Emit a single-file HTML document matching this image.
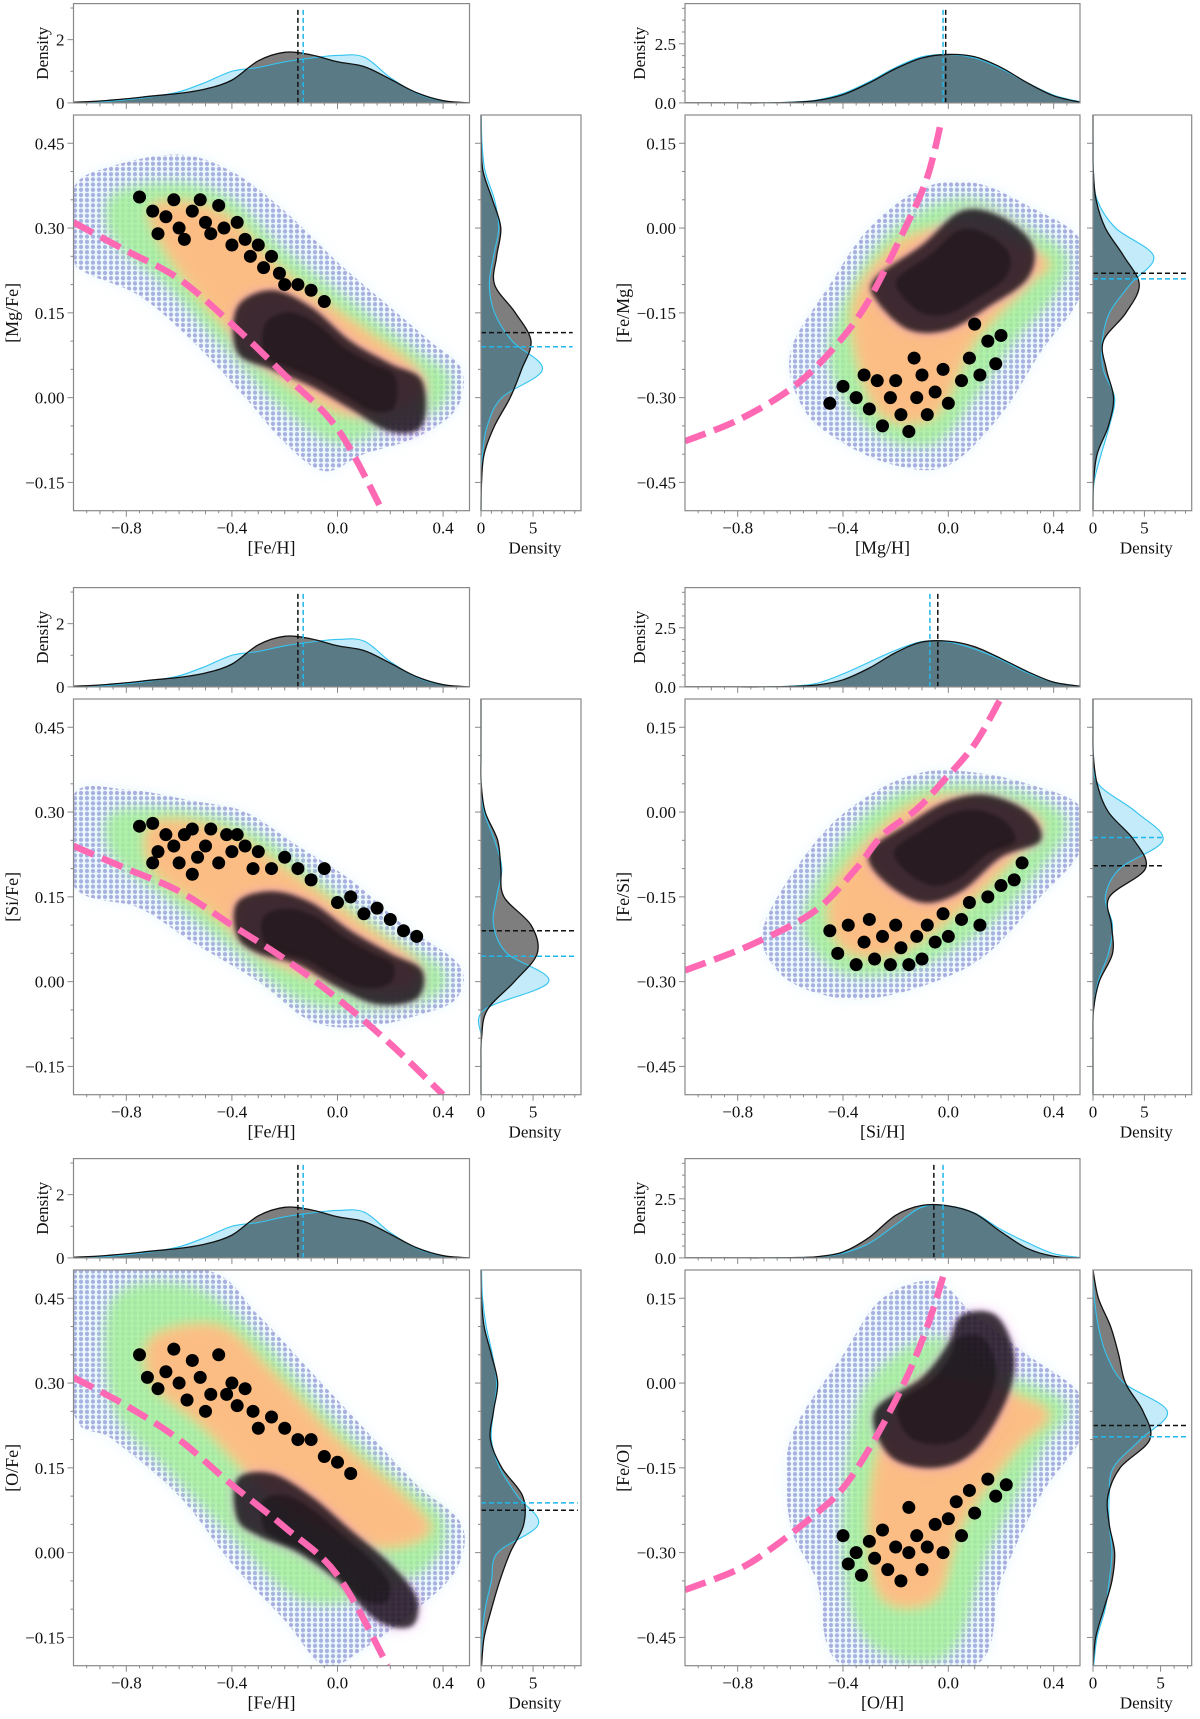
<!DOCTYPE html>
<html><head><meta charset="utf-8"><style>
html,body{margin:0;padding:0;background:#fff;}
svg text{font-family:"Liberation Serif",serif;fill:#111;}
</style></head><body>
<svg id="fig" xmlns="http://www.w3.org/2000/svg" width="1200" height="1714" viewBox="0 0 1200 1714">
<defs>
<pattern id="dots" width="6" height="5.2" patternUnits="userSpaceOnUse"><circle cx="3" cy="2.6" r="2.1" fill="#8c8cd2" fill-opacity="0.75"/></pattern>
<filter id="blur" x="-20%" y="-20%" width="140%" height="140%"><feGaussianBlur stdDeviation="6"/></filter>
<filter id="blur2" x="-20%" y="-20%" width="140%" height="140%"><feGaussianBlur stdDeviation="2.5"/></filter>
</defs>
</svg>
<script>
// ---------- shared grids ----------
const topGrid=[-1,-0.9,-0.8,-0.7,-0.6,-0.5,-0.4,-0.3,-0.2,-0.1,0,0.1,0.2,0.3,0.4,0.5];
const xTicks=[-0.8,-0.4,0,0.4];
const xTickLabels=["\u22120.8","\u22120.4","0.0","0.4"];
const yTicksLeft=[-0.15,0,0.15,0.3,0.45];
const yTickLabelsLeft=["\u22120.15","0.00","0.15","0.30","0.45"];
const yTicksRight=[-0.45,-0.3,-0.15,0,0.15];
const yTickLabelsRight=["\u22120.45","\u22120.30","\u22120.15","0.00","0.15"];

// ---------- panel 1 [Mg/Fe] vs [Fe/H] ----------
const p1TopBlack=[0.02,0.06,0.13,0.22,0.3,0.44,0.72,1.33,1.6,1.52,1.3,1.15,0.75,0.32,0.07,0];
const p1TopCyan=[0.01,0.03,0.1,0.2,0.35,0.65,1.0,1.12,1.3,1.42,1.5,1.45,0.8,0.3,0.06,0];
const p1RightBlack=[0,0.05,0.3,1.3,2.8,3.9,4.8,3.3,1.3,1.5,1.9,1.1,0.2,0.02,0];
const p1RightCyan=[0,0.02,0.15,0.6,2.0,5.9,3.0,1.3,0.8,1.2,1.7,1.3,0.4,0.1,0.02];
const p1Medians={topBlack:-0.15,topCyan:-0.13,rightBlack:0.115,rightCyan:0.09};
const p1CurveX=[-1,-0.8,-0.6,-0.4,-0.2,0,0.17];
const p1CurveY=[0.31,0.26,0.21,0.13,0.04,-0.055,-0.2];
const p1Outer=[[-1,0.37],[-0.85,0.41],[-0.6,0.43],[-0.4,0.4],[-0.2,0.33],[0,0.24],[0.2,0.16],[0.35,0.1],[0.47,0.05],[0.45,-0.02],[0.3,-0.07],[0.1,-0.1],[-0.05,-0.13],[-0.2,-0.08],[-0.35,0],[-0.55,0.1],[-0.75,0.18],[-0.95,0.22],[-1,0.25]];
const p1Green=[[-0.85,0.36],[-0.6,0.38],[-0.4,0.35],[-0.2,0.26],[0.05,0.17],[0.3,0.08],[0.42,0.04],[0.38,-0.02],[0.2,-0.05],[0,-0.08],[-0.2,-0.02],[-0.45,0.1],[-0.65,0.2],[-0.85,0.28]];
const p1Core=[[-0.7,0.34],[-0.45,0.33],[-0.2,0.22],[0.1,0.12],[0.3,0.05],[0.3,0],[0.05,-0.03],[-0.2,0.03],[-0.45,0.14],[-0.65,0.26]];
const p1Dense=[[-0.38,0.16],[-0.25,0.19],[-0.1,0.16],[0.05,0.1],[0.2,0.06],[0.32,0.03],[0.32,-0.05],[0.2,-0.06],[0.05,-0.02],[-0.1,0.02],[-0.25,0.05],[-0.38,0.08]];
const p1DotsX=[-0.75,-0.7,-0.68,-0.65,-0.62,-0.6,-0.58,-0.55,-0.52,-0.5,-0.48,-0.45,-0.43,-0.4,-0.38,-0.35,-0.33,-0.3,-0.28,-0.25,-0.22,-0.2,-0.15,-0.1,-0.05];
const p1DotsY=[0.355,0.33,0.29,0.32,0.35,0.3,0.28,0.33,0.35,0.31,0.29,0.34,0.3,0.27,0.31,0.28,0.25,0.27,0.23,0.25,0.22,0.2,0.2,0.19,0.17];

// ---------- panel 2 [Fe/Mg] vs [Mg/H] ----------
const p2TopBlack=[0,0,0,0,0.02,0.1,0.35,0.85,1.45,1.9,2.05,1.95,1.5,0.85,0.3,0.03];
const p2TopCyan=[0,0,0,0,0.03,0.12,0.4,0.9,1.5,1.95,2.05,1.9,1.45,0.85,0.33,0.05];
const p2RightBlack=[0,0.05,0.4,1.5,2.0,1.3,1.0,3.2,4.5,3.0,1.2,0.3,0.03,0,0];
const p2RightCyan=[0,0.1,0.8,1.6,2.1,1.0,0.9,1.6,3.6,5.9,2.2,0.4,0.05,0.01,0];
const p2Medians={topBlack:-0.01,topCyan:-0.02,rightBlack:-0.08,rightCyan:-0.09};
const p2CurveX=[-1,-0.8,-0.6,-0.45,-0.31,-0.164,-0.08,-0.026];
const p2CurveY=[-0.377,-0.34,-0.285,-0.22,-0.134,0,0.09,0.19];
const p2Outer=[[-0.6,-0.22],[-0.45,-0.1],[-0.3,0],[-0.1,0.07],[0.1,0.08],[0.3,0.04],[0.5,-0.02],[0.5,-0.12],[0.35,-0.22],[0.2,-0.33],[0,-0.42],[-0.2,-0.42],[-0.4,-0.38],[-0.55,-0.32]];
const p2Green=[[-0.45,-0.2],[-0.3,-0.05],[-0.1,0.03],[0.1,0.05],[0.3,0],[0.45,-0.05],[0.4,-0.12],[0.25,-0.2],[0.1,-0.3],[-0.05,-0.38],[-0.25,-0.37],[-0.4,-0.3]];
const p2Core=[[-0.35,-0.12],[-0.2,-0.03],[0,0],[0.2,-0.02],[0.38,-0.06],[0.3,-0.1],[0.1,-0.2],[-0.05,-0.33],[-0.25,-0.33],[-0.35,-0.22]];
const p2Dense=[[-0.28,-0.09],[-0.1,-0.03],[0.05,0.03],[0.2,0.02],[0.32,-0.03],[0.3,-0.09],[0.15,-0.14],[0,-0.18],[-0.15,-0.18],[-0.27,-0.13]];
const p2DotsX=[-0.4,-0.35,-0.3,-0.27,-0.25,-0.22,-0.2,-0.18,-0.15,-0.12,-0.1,-0.08,-0.05,-0.02,0,0.05,0.08,0.12,0.15,0.18,0.2,-0.32,-0.45,-0.13,0.1];
const p2DotsY=[-0.28,-0.3,-0.32,-0.27,-0.35,-0.3,-0.27,-0.33,-0.36,-0.3,-0.26,-0.33,-0.29,-0.25,-0.31,-0.27,-0.23,-0.26,-0.2,-0.24,-0.19,-0.26,-0.31,-0.23,-0.17];

// ---------- panel 3 [Si/Fe] vs [Fe/H] ----------
const p3TopBlack=[0.02,0.06,0.13,0.22,0.3,0.44,0.72,1.33,1.6,1.52,1.3,1.15,0.75,0.32,0.07,0];
const p3TopCyan=[0.01,0.03,0.1,0.2,0.35,0.65,1.0,1.12,1.3,1.42,1.5,1.45,0.8,0.3,0.06,0];
const p3RightBlack=[0,0,0.05,0.6,3.2,5.4,4.8,2.2,1.9,1.6,0.4,0.02,0,0,0];
const p3RightCyan=[0,0,0.03,0.3,6.5,2.5,1.2,1.5,2.0,1.3,0.3,0.02,0,0,0];
const p3Medians={topBlack:-0.15,topCyan:-0.13,rightBlack:0.09,rightCyan:0.045};
const p3CurveX=[-1,-0.8,-0.6,-0.4,-0.2,0,0.2,0.4];
const p3CurveY=[0.24,0.2,0.16,0.1,0.04,-0.03,-0.11,-0.2];
const p3Outer=[[-1,0.33],[-0.8,0.34],[-0.55,0.32],[-0.35,0.3],[-0.15,0.24],[0.05,0.18],[0.25,0.1],[0.46,0.03],[0.45,-0.03],[0.3,-0.06],[0.1,-0.08],[-0.1,-0.07],[-0.3,0],[-0.55,0.07],[-0.75,0.13],[-1,0.17]];
const p3Green=[[-0.85,0.3],[-0.55,0.3],[-0.3,0.26],[-0.05,0.17],[0.2,0.08],[0.4,0.02],[0.35,-0.03],[0.1,-0.05],[-0.15,-0.03],[-0.4,0.06],[-0.65,0.15],[-0.85,0.22]];
const p3Core=[[-0.7,0.28],[-0.45,0.27],[-0.2,0.2],[0.1,0.1],[0.3,0.03],[0.25,-0.01],[0,0],[-0.25,0.04],[-0.5,0.13],[-0.7,0.2]];
const p3Dense=[[-0.38,0.14],[-0.25,0.16],[-0.1,0.14],[0.05,0.09],[0.2,0.05],[0.32,0.02],[0.3,-0.03],[0.15,-0.04],[0,-0.01],[-0.15,0.03],[-0.3,0.05],[-0.38,0.08]];
const p3DotsX=[-0.75,-0.7,-0.68,-0.65,-0.62,-0.6,-0.58,-0.55,-0.53,-0.5,-0.48,-0.45,-0.42,-0.4,-0.38,-0.35,-0.32,-0.3,-0.25,-0.2,-0.15,-0.1,-0.05,-0.7,-0.55,0,0.05,0.1,0.15,0.2,0.25,0.3];
const p3DotsY=[0.275,0.28,0.23,0.26,0.24,0.21,0.26,0.27,0.22,0.24,0.27,0.21,0.26,0.23,0.26,0.24,0.2,0.23,0.2,0.22,0.2,0.18,0.2,0.21,0.19,0.14,0.15,0.12,0.13,0.11,0.09,0.08];

// ---------- panel 4 [Fe/Si] vs [Si/H] ----------
const p4TopBlack=[0,0,0,0,0.02,0.08,0.3,0.8,1.45,1.9,1.93,1.7,1.2,0.65,0.2,0.03];
const p4TopCyan=[0,0,0,0,0.03,0.15,0.55,1.05,1.55,1.92,1.9,1.6,1.15,0.6,0.2,0.03];
const p4RightBlack=[0,0,0,0.05,0.6,1.9,1.8,1.6,5.1,4.0,1.5,0.4,0.03,0,0];
const p4RightCyan=[0,0,0,0.05,0.5,1.5,1.9,1.2,2.6,6.8,4.2,0.5,0.05,0,0];
const p4Medians={topBlack:-0.04,topCyan:-0.07,rightBlack:-0.095,rightCyan:-0.045};
const p4CurveX=[-1,-0.75,-0.51,-0.35,-0.25,-0.12,-0.019,0.1,0.198];
const p4CurveY=[-0.28,-0.235,-0.176,-0.1,-0.041,0.005,0.055,0.12,0.2];
const p4Outer=[[-0.7,-0.2],[-0.5,-0.05],[-0.3,0.03],[-0.1,0.07],[0.1,0.07],[0.3,0.05],[0.5,0.01],[0.5,-0.07],[0.35,-0.15],[0.15,-0.25],[-0.05,-0.3],[-0.3,-0.33],[-0.5,-0.32],[-0.65,-0.28]];
const p4Green=[[-0.55,-0.18],[-0.4,-0.05],[-0.2,0.03],[0.05,0.05],[0.3,0.03],[0.45,-0.02],[0.35,-0.1],[0.15,-0.2],[-0.1,-0.27],[-0.35,-0.29],[-0.5,-0.25]];
const p4Core=[[-0.45,-0.15],[-0.3,-0.05],[-0.1,0.02],[0.15,0.02],[0.35,-0.02],[0.25,-0.08],[0.05,-0.17],[-0.2,-0.25],[-0.4,-0.24]];
const p4Dense=[[-0.3,-0.07],[-0.15,-0.02],[0,0.02],[0.15,0.03],[0.3,0],[0.35,-0.05],[0.2,-0.08],[0.05,-0.14],[-0.1,-0.16],[-0.25,-0.12]];
const p4DotsX=[-0.45,-0.42,-0.38,-0.35,-0.32,-0.3,-0.28,-0.25,-0.22,-0.2,-0.18,-0.15,-0.12,-0.1,-0.08,-0.05,-0.02,0,0.05,0.08,0.12,0.15,0.2,0.25,0.28];
const p4DotsY=[-0.21,-0.25,-0.2,-0.27,-0.23,-0.19,-0.26,-0.22,-0.27,-0.2,-0.24,-0.27,-0.22,-0.26,-0.2,-0.23,-0.18,-0.22,-0.19,-0.16,-0.2,-0.15,-0.13,-0.12,-0.09];

// ---------- panel 5 [O/Fe] vs [Fe/H] ----------
const p5TopBlack=[0.02,0.06,0.13,0.22,0.3,0.44,0.72,1.33,1.6,1.52,1.3,1.15,0.75,0.32,0.07,0];
const p5TopCyan=[0.01,0.03,0.1,0.2,0.35,0.65,1.0,1.12,1.3,1.42,1.5,1.45,0.8,0.3,0.06,0];
const p5RightBlack=[0.05,0.3,1.0,1.8,2.8,4.1,4.0,2.0,0.9,1.2,1.6,1.0,0.3,0.05,0];
const p5RightCyan=[0,0.1,0.4,1.0,1.6,5.5,3.5,1.8,1.0,1.2,1.5,1.1,0.5,0.15,0.05];
const p5Medians={topBlack:-0.15,topCyan:-0.13,rightBlack:0.075,rightCyan:0.088};
const p5CurveX=[-1,-0.8,-0.6,-0.4,-0.2,0,0.19];
const p5CurveY=[0.31,0.26,0.2,0.12,0.045,-0.04,-0.2];
const p5Outer=[[-1,0.5],[-0.5,0.5],[-0.3,0.42],[-0.1,0.32],[0.1,0.22],[0.3,0.12],[0.47,0.05],[0.45,-0.03],[0.3,-0.1],[0.1,-0.17],[-0.05,-0.2],[-0.2,-0.12],[-0.4,-0.02],[-0.6,0.1],[-0.85,0.2],[-1,0.25]];
const p5Green=[[-0.85,0.45],[-0.55,0.47],[-0.3,0.38],[-0.05,0.25],[0.2,0.14],[0.4,0.06],[0.35,-0.02],[0.1,-0.08],[-0.15,-0.08],[-0.4,0.03],[-0.65,0.15],[-0.85,0.26]];
const p5Core=[[-0.7,0.38],[-0.45,0.4],[-0.25,0.32],[0,0.2],[0.25,0.1],[0.35,0.04],[0.2,0.01],[0,0.03],[-0.25,0.1],[-0.5,0.22],[-0.7,0.3]];
const p5Dense=[[-0.38,0.13],[-0.25,0.14],[-0.1,0.1],[0.05,0.04],[0.2,-0.02],[0.3,-0.08],[0.28,-0.13],[0.15,-0.12],[0,-0.05],[-0.15,0],[-0.3,0.03],[-0.38,0.06]];
const p5DotsX=[-0.75,-0.72,-0.68,-0.65,-0.62,-0.6,-0.57,-0.55,-0.52,-0.5,-0.48,-0.45,-0.42,-0.4,-0.38,-0.35,-0.32,-0.3,-0.25,-0.2,-0.15,-0.1,-0.05,0,0.05];
const p5DotsY=[0.35,0.31,0.29,0.32,0.36,0.3,0.27,0.34,0.31,0.25,0.28,0.35,0.28,0.3,0.26,0.29,0.25,0.22,0.24,0.22,0.2,0.2,0.17,0.16,0.14];

// ---------- panel 6 [Fe/O] vs [O/H] ----------
const p6TopBlack=[0,0,0,0,0.01,0.05,0.25,0.87,1.8,2.22,2.2,1.88,1.1,0.4,0.07,0];
const p6TopCyan=[0,0,0,0,0.01,0.04,0.2,0.62,1.4,2.15,2.2,1.9,1.2,0.65,0.18,0.02];
const p6RightBlack=[0,0.2,0.8,1.4,1.6,1.2,1.1,2.0,4.2,3.7,2.4,1.9,1.3,0.4,0];
const p6RightCyan=[0.05,0.3,0.9,1.2,1.4,1.2,1.2,1.5,3.5,5.5,2.3,1.0,0.4,0.1,0];
const p6Medians={topBlack:-0.055,topCyan:-0.02,rightBlack:-0.075,rightCyan:-0.095};
const p6CurveX=[-1,-0.8,-0.67,-0.5,-0.395,-0.28,-0.164,-0.08,-0.012];
const p6CurveY=[-0.366,-0.33,-0.292,-0.23,-0.183,-0.1,0.004,0.1,0.2];
const p6Outer=[[-0.6,-0.1],[-0.4,0.05],[-0.25,0.15],[-0.05,0.18],[0.1,0.12],[0.3,0.05],[0.5,-0.02],[0.5,-0.1],[0.35,-0.2],[0.2,-0.35],[0.1,-0.5],[-0.4,-0.5],[-0.5,-0.35],[-0.6,-0.25]];
const p6Green=[[-0.35,-0.05],[-0.2,0.05],[0,0.08],[0.2,0.02],[0.45,-0.04],[0.35,-0.12],[0.15,-0.3],[0,-0.48],[-0.3,-0.46],[-0.4,-0.3]];
const p6Core=[[-0.25,-0.1],[-0.1,0],[0.1,0],[0.3,-0.03],[0.38,-0.06],[0.25,-0.12],[0.05,-0.25],[-0.05,-0.38],[-0.25,-0.38],[-0.3,-0.25]];
const p6Dense=[[-0.28,-0.05],[-0.1,0.01],[0,0.07],[0.05,0.12],[0.18,0.12],[0.25,0.05],[0.22,-0.03],[0.1,-0.12],[-0.05,-0.15],[-0.22,-0.13]];
const p6DotsX=[-0.4,-0.38,-0.35,-0.33,-0.3,-0.28,-0.25,-0.23,-0.2,-0.18,-0.15,-0.12,-0.1,-0.08,-0.05,-0.02,0,0.03,0.05,0.08,0.1,0.15,0.18,0.22,-0.15];
const p6DotsY=[-0.27,-0.32,-0.3,-0.34,-0.28,-0.31,-0.26,-0.33,-0.29,-0.35,-0.3,-0.27,-0.33,-0.29,-0.25,-0.3,-0.24,-0.21,-0.27,-0.19,-0.23,-0.17,-0.2,-0.18,-0.22];

const panels=[
 {id:'p1',col:0,row:0,xl:'[Fe/H]',yl:'[Mg/Fe]',tb:p1TopBlack,tc:p1TopCyan,rb:p1RightBlack,rc:p1RightCyan,med:p1Medians,cx:p1CurveX,cy:p1CurveY,outer:p1Outer,green:p1Green,core:p1Core,dense:p1Dense,dx:p1DotsX,dy:p1DotsY,rMax:9.6,mEnd:8.8},
 {id:'p2',col:1,row:0,xl:'[Mg/H]',yl:'[Fe/Mg]',tb:p2TopBlack,tc:p2TopCyan,rb:p2RightBlack,rc:p2RightCyan,med:p2Medians,cx:p2CurveX,cy:p2CurveY,outer:p2Outer,green:p2Green,core:p2Core,dense:p2Dense,dx:p2DotsX,dy:p2DotsY,rMax:9.6,mEnd:9.3},
 {id:'p3',col:0,row:1,xl:'[Fe/H]',yl:'[Si/Fe]',tb:p3TopBlack,tc:p3TopCyan,rb:p3RightBlack,rc:p3RightCyan,med:p3Medians,cx:p3CurveX,cy:p3CurveY,outer:p3Outer,green:p3Green,core:p3Core,dense:p3Dense,dx:p3DotsX,dy:p3DotsY,rMax:9.6,mEnd:9.0},
 {id:'p4',col:1,row:1,xl:'[Si/H]',yl:'[Fe/Si]',tb:p4TopBlack,tc:p4TopCyan,rb:p4RightBlack,rc:p4RightCyan,med:p4Medians,cx:p4CurveX,cy:p4CurveY,outer:p4Outer,green:p4Green,core:p4Core,dense:p4Dense,dx:p4DotsX,dy:p4DotsY,rMax:9.6,mEnd:6.7},
 {id:'p5',col:0,row:2,xl:'[Fe/H]',yl:'[O/Fe]',tb:p5TopBlack,tc:p5TopCyan,rb:p5RightBlack,rc:p5RightCyan,med:p5Medians,cx:p5CurveX,cy:p5CurveY,outer:p5Outer,green:p5Green,core:p5Core,dense:p5Dense,dx:p5DotsX,dy:p5DotsY,rMax:9.6,mEnd:9.3},
 {id:'p6',col:1,row:2,xl:'[O/H]',yl:'[Fe/O]',tb:p6TopBlack,tc:p6TopCyan,rb:p6RightBlack,rc:p6RightCyan,med:p6Medians,cx:p6CurveX,cy:p6CurveY,outer:p6Outer,green:p6Green,core:p6Core,dense:p6Dense,dx:p6DotsX,dy:p6DotsY,rMax:7.3,mEnd:7.0}
];

const NS='http://www.w3.org/2000/svg';
const svg=document.getElementById('fig');
function mk(parent,tag,attrs,txt){const e=document.createElementNS(NS,tag);for(const k in attrs)e.setAttribute(k,attrs[k]);if(txt!=null)e.textContent=txt;parent.appendChild(e);return e;}
function smooth(pts){let d='M'+pts[0][0]+','+pts[0][1];for(let i=0;i<pts.length-1;i++){const p0=pts[Math.max(i-1,0)],p1=pts[i],p2=pts[i+1],p3=pts[Math.min(i+2,pts.length-1)];const c1=[p1[0]+(p2[0]-p0[0])/6,p1[1]+(p2[1]-p0[1])/6],c2=[p2[0]-(p3[0]-p1[0])/6,p2[1]-(p3[1]-p1[1])/6];d+=' C'+c1[0]+','+c1[1]+' '+c2[0]+','+c2[1]+' '+p2[0]+','+p2[1];}return d;}
function closedPath(pts){const n=pts.length;let d='M'+pts[0][0]+','+pts[0][1];for(let i=0;i<n;i++){const p0=pts[(i-1+n)%n],p1=pts[i],p2=pts[(i+1)%n],p3=pts[(i+2)%n];const c1=[p1[0]+(p2[0]-p0[0])/6,p1[1]+(p2[1]-p0[1])/6],c2=[p2[0]-(p3[0]-p1[0])/6,p2[1]-(p3[1]-p1[1])/6];d+=' C'+c1[0]+','+c1[1]+' '+c2[0]+','+c2[1]+' '+p2[0]+','+p2[1];}return d+'Z';}
const rowOff=[0,584,1155];
const FR='#888';

panels.forEach(p=>{
  const left=p.col===0;
  const L=left?73.5:685, W=left?396:395, T=115+rowOff[p.row], H=395.7;
  const TT=3.6+rowOff[p.row], TH=99.3;
  const R=left?481:1093, RW=left?100:98.7;
  const ymin=left?-0.2:-0.5, ymax=ymin+0.7;
  const topMax=left?3.14:4.2;
  const sx=v=>L+(v+1)/1.5*W;
  const sy=v=>T+(ymax-v)/0.7*H;
  const ty=v=>TT+TH-v/topMax*TH;
  const rx=v=>R+v/p.rMax*RW;
  const g=mk(svg,'g',{});
  
  

  // ---- main scatter ----
  const clip=mk(g,'clipPath',{id:p.id+'clip'});
  mk(clip,'rect',{x:L,y:T,width:W,height:H});
  const sc=mk(g,'g',{'clip-path':'url(#'+p.id+'clip)'});
  
  
  const toPx=a=>a.map(q=>[sx(q[0]),sy(q[1])]);
  const outer=mk(sc,'path',{d:closedPath(toPx(p.outer)),fill:'url(#dots)'});
  
  
  mk(sc,'path',{d:closedPath(toPx(p.outer)),fill:'#9ad9f0','fill-opacity':'0.2',filter:'url(#blur)'});
  const gr=mk(sc,'path',{d:closedPath(toPx(p.green)),fill:'#a4f09a','fill-opacity':'0.85',filter:'url(#blur)'});
  
  
  mk(sc,'path',{d:closedPath(toPx(p.core)),fill:'#fbe77a','fill-opacity':'0.95',filter:'url(#blur)'});
  mk(sc,'path',{d:closedPath(toPx(p.core)),fill:'#ff9a8a','fill-opacity':'0.55',filter:'url(#blur)',transform:'translate(0,0)'});
  mk(sc,'path',{d:closedPath(toPx(p.dense)),fill:'#e48ae8','fill-opacity':'0.6',filter:'url(#blur)'});
  const dn=mk(sc,'path',{d:closedPath(toPx(p.dense)),fill:'#000','fill-opacity':'0.74',filter:'url(#blur2)'});
  
  
  const ctr=toPx(p.dense).reduce((a,q)=>[a[0]+q[0]/p.dense.length,a[1]+q[1]/p.dense.length],[0,0]);
  mk(sc,'path',{d:closedPath(toPx(p.dense)),fill:'#000','fill-opacity':'0.35',filter:'url(#blur2)',transform:'translate('+ctr[0]+','+ctr[1]+') scale(0.7) translate('+(-ctr[0])+','+(-ctr[1])+')'});
  p.dx.forEach((x,i)=>{
    const c=mk(sc,'circle',{cx:sx(x),cy:sy(p.dy[i]),r:6.5,fill:'#000'});
    
    
  });
  const cp=p.cx.map((x,i)=>[sx(x),sy(p.cy[i])]);
  const curve=mk(sc,'path',{d:smooth(cp),fill:'none',stroke:'#ff69b4',"stroke-width":6.5,"stroke-dasharray":'22 9'});
  
  
  const fr=mk(g,'rect',{x:L,y:T,width:W,height:H,fill:'none',stroke:FR,'stroke-width':1.2});
  
  

  for(let v=-0.95;v<=0.5;v+=0.05){const X=sx(v);const major=xTicks.some(t=>Math.abs(t-v)<1e-6);const minor10=Math.abs(Math.round(v*10)-v*10)<1e-6;
    const len=major?6:(minor10?3.5:2.5);
    mk(g,'line',{x1:X,x2:X,y1:T+H,y2:T+H+len,stroke:FR});
    mk(g,'line',{x1:X,x2:X,y1:TT+TH,y2:TT+TH+len,stroke:FR});}
  xTicks.forEach((v,i)=>{const t=mk(g,'text',{x:sx(v),y:T+H+23,'font-size':17,'text-anchor':'middle'},xTickLabels[i]);});
  const xl=mk(g,'text',{x:L+W/2,y:T+H+43,'font-size':18,'text-anchor':'middle'},p.xl);
  
  
  const yt=left?yTicksLeft:yTicksRight, ytl=left?yTickLabelsLeft:yTickLabelsRight;
  for(let v=ymin+0.05;v<ymax;v+=0.05){const Y=sy(v);const major=yt.some(t=>Math.abs(t-v)<1e-6);mk(g,'line',{x1:L-(major?6:3),x2:L,y1:Y,y2:Y,stroke:FR});mk(g,'line',{x1:R-(major?6:3),x2:R,y1:Y,y2:Y,stroke:FR});}
  yt.forEach((v,i)=>{const t=mk(g,'text',{x:L-9,y:sy(v)+6,'font-size':17,'text-anchor':'end'},ytl[i]);});
  const yl=mk(g,'text',{x:0,y:0,'font-size':18,'text-anchor':'middle',transform:'translate('+(left?18:629)+','+(T+H/2)+') rotate(-90)'},p.yl);
  
  

  // ---- top density ----
  const tg=mk(g,'g',{});
  
  
  const bPts=topGrid.map((x,i)=>[sx(x),ty(p.tb[i])]), cPts=topGrid.map((x,i)=>[sx(x),ty(p.tc[i])]);
  const base=ty(0);
  const areaD=pts=>smooth(pts)+' L'+pts[pts.length-1][0]+','+base+' L'+pts[0][0]+','+base+'Z';
  mk(tg,'path',{d:areaD(cPts),fill:'#c3ebf9'});
  mk(tg,'path',{d:areaD(bPts),fill:'#7e7e7e'});
  const cpT=mk(tg,'clipPath',{id:p.id+'tclip'});mk(cpT,'path',{d:areaD(cPts)});
  mk(tg,'path',{d:areaD(bPts),fill:'#5a7b86','clip-path':'url(#'+p.id+'tclip)'});
  mk(tg,'path',{d:smooth(cPts),fill:'none',stroke:'#33c4f0','stroke-width':1.1});
  mk(tg,'path',{d:smooth(bPts),fill:'none',stroke:'#111','stroke-width':1.3});
  const mb=mk(tg,'line',{x1:sx(p.med.topBlack),x2:sx(p.med.topBlack),y1:base,y2:TT+4,stroke:'#111','stroke-width':1.5,'stroke-dasharray':'5 3'});
  
  
  const mc=mk(tg,'line',{x1:sx(p.med.topCyan),x2:sx(p.med.topCyan),y1:base,y2:TT+4,stroke:'#1fb8ec','stroke-width':1.5,'stroke-dasharray':'5 3'});
  
  
  mk(g,'rect',{x:L,y:TT,width:W,height:TH,fill:'none',stroke:FR,'stroke-width':1.2});
  const tTicks=left?[0,1,2,3]:[0,0.5,1,1.5,2,2.5,3,3.5,4];
  tTicks.forEach(v=>{const major=left?(v%2===0):(v%2.5===0);mk(g,'line',{x1:L-(major?6:3),x2:L,y1:ty(v),y2:ty(v),stroke:FR});});
  (left?[[0,'0'],[2,'2']]:[[0,'0.0'],[2.5,'2.5']]).forEach(a=>{const t=mk(g,'text',{x:L-9,y:ty(a[0])+6,'font-size':17,'text-anchor':'end'},a[1]);});
  const dl=mk(g,'text',{x:0,y:0,'font-size':17,'text-anchor':'middle',transform:'translate('+(left?48:645)+','+(TT+TH/2)+') rotate(-90)'},'Density');
  
  

  // ---- right density ----
  const rg=mk(g,'g',{});
  
  
  const rY=[];for(let i=0;i<15;i++)rY.push(ymin+i*0.05);
  const rb=rY.map((y,i)=>[rx(p.rb[i]),sy(y)]), rc=rY.map((y,i)=>[rx(p.rc[i]),sy(y)]);
  const rArea=pts=>smooth(pts)+' L'+R+','+pts[pts.length-1][1]+' L'+R+','+pts[0][1]+'Z';
  mk(rg,'path',{d:rArea(rc),fill:'#c3ebf9'});
  mk(rg,'path',{d:rArea(rb),fill:'#7e7e7e'});
  const cpR=mk(rg,'clipPath',{id:p.id+'rclip'});mk(cpR,'path',{d:rArea(rc)});
  mk(rg,'path',{d:rArea(rb),fill:'#5a7b86','clip-path':'url(#'+p.id+'rclip)'});
  mk(rg,'path',{d:smooth(rc),fill:'none',stroke:'#33c4f0','stroke-width':1.1});
  mk(rg,'path',{d:smooth(rb),fill:'none',stroke:'#111','stroke-width':1.3});
  const hb=mk(rg,'line',{x1:R,x2:rx(p.mEnd),y1:sy(p.med.rightBlack),y2:sy(p.med.rightBlack),stroke:'#111','stroke-width':1.5,'stroke-dasharray':'5 3'});
  
  
  const hc=mk(rg,'line',{x1:R,x2:rx(p.mEnd),y1:sy(p.med.rightCyan),y2:sy(p.med.rightCyan),stroke:'#1fb8ec','stroke-width':1.5,'stroke-dasharray':'5 3'});
  
  
  mk(g,'rect',{x:R,y:T,width:RW,height:H,fill:'none',stroke:FR,'stroke-width':1.2});
  for(let v=0;v<=p.rMax;v+=1){const major=v%5===0;mk(g,'line',{x1:rx(v),x2:rx(v),y1:T+H,y2:T+H+(major?6:3),stroke:FR});}
  [[0,'0'],[5,'5']].forEach(a=>{const t=mk(g,'text',{x:rx(a[0]),y:T+H+23,'font-size':17,'text-anchor':'middle'},a[1]);});
  const rl=mk(g,'text',{x:R+RW/2+4,y:T+H+43,'font-size':17,'text-anchor':'middle'},'Density');
  
  
});
</script>
</body></html>
